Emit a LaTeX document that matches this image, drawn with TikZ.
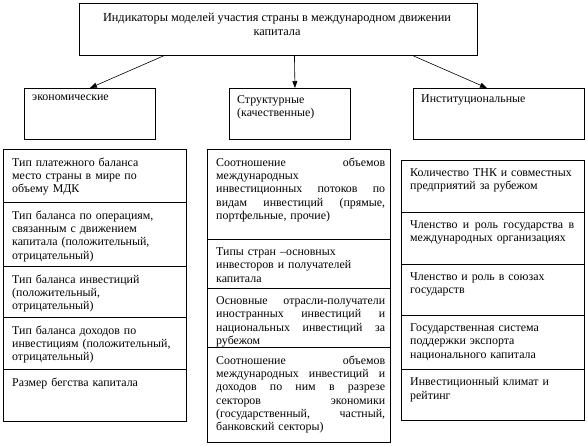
\documentclass[tikz,border=0pt]{standalone}
\usepackage{fontspec}
\setmainfont{Liberation Serif}
\newfontfamily\tnr{Liberation Serif}
\usetikzlibrary{arrows.meta}
\newcommand\mycell[7]{%
  \node[cellbox, minimum width=#4pt, minimum height=#5pt] (#1) at (#2,#3) {};
  \node[celltxt, text width=#6pt] (#1t) at ([xshift=9pt,yshift=-8.5pt]#1.north west) {#7};
}
\begin{document}
\begin{tikzpicture}[x=1pt,y=-1pt,
  cellbox/.style={draw=black, line width=0.9pt, inner sep=0pt, anchor=north west},
  celltxt/.style={anchor=north west, inner sep=0pt, align=left,
    font=\tnr\fontsize{11.9}{13.3}\selectfont},
  arr/.style={-{Triangle[length=7pt,width=5pt]}, line width=0.6pt}]
\useasboundingbox (0,0) rectangle (587,445);
% top box
\node[cellbox, minimum width=398pt, minimum height=52pt] (top) at (79,3) {};
\node[inner sep=0pt, align=center, font=\tnr\fontsize{12.3}{14}\selectfont] (topt) at (277,24)
  {Индикаторы моделей участия страны в международном движении\\капитала};
% middle row
\node[cellbox, minimum width=131pt, minimum height=51pt] (eco) at (24,88) {};
\node[celltxt, text width=120pt] (ecot) at ([xshift=8pt,yshift=-7pt]eco.north west) {экономические};
\node[cellbox, minimum width=121pt, minimum height=51pt] (str) at (229,88) {};
\node[celltxt, text width=110pt] (strt) at ([xshift=8pt,yshift=-7pt]str.north west) {Структурные\\(качественные)};
\node[cellbox, minimum width=171pt, minimum height=51pt] (inst) at (413,88) {};
\node[celltxt, text width=160pt] (instt) at ([xshift=8pt,yshift=-7pt]inst.north west) {Институциональные};
% arrows
\draw[arr] ([xshift=-115pt]top.south) -- (eco.north);
\draw[arr] ([xshift=16pt]top.south) -- ([xshift=5pt]str.north);
\draw[arr] ([xshift=135pt]top.south) -- ([xshift=-12pt]inst.north);
% left column
\mycell{l1}{3}{149}{183}{53}{170}{Тип платежного баланса\\место страны в мире по\\объему МДК}
\mycell{l2}{3}{202}{183}{64}{170}{Тип баланса по операциям,\\связанным с движением\\капитала (положительный,\\отрицательный)}
\mycell{l3}{3}{266}{183}{51}{170}{Тип баланса инвестиций\\(положительный,\\отрицательный)}
\mycell{l4}{3}{317}{183}{52}{170}{Тип баланса доходов по\\инвестициям (положительный,\\отрицательный)}
\mycell{l5}{3}{369}{183}{52}{170}{Размер бегства капитала}
% middle column
\mycell{m1}{207}{149}{183}{90}{169}{Соотношение\hfill объемов\\международных\\инвестиционных\hfill потоков\hfill по\\видам\hfill инвестиций\hfill (прямые,\\портфельные, прочие)}
\mycell{m2}{207}{239}{183}{49}{169}{Типы стран –основных\\инвесторов и получателей\\капитала}
\mycell{m3}{207}{288}{183}{59}{169}{Основные\hfill отрасли-получатели\\иностранных\hfill инвестиций\hfill и\\национальных\hfill инвестиций\hfill за\\рубежом}
\mycell{m4}{207}{347}{183}{95}{169}{Соотношение\hfill объемов\\международных\hfill инвестиций\hfill и\\доходов\hfill по\hfill ним\hfill в\hfill разрезе\\секторов\hfill экономики\\(государственный,\hfill частный,\\банковский секторы)}
% right column
\mycell{r1}{401}{160}{183}{52}{172}{Количество ТНК и совместных\\предприятий за рубежом}
\mycell{r2}{401}{212}{183}{52}{164}{Членство\hfill и\hfill роль\hfill государства\hfill в\\международных организациях}
\mycell{r3}{401}{264}{183}{51}{172}{Членство и роль в союзах\\государств}
\mycell{r4}{401}{315}{183}{54}{172}{Государственная система\\поддержки экспорта\\национального капитала}
\mycell{r5}{401}{369}{183}{51}{172}{Инвестиционный климат и\\рейтинг}
\end{tikzpicture}
\end{document}
